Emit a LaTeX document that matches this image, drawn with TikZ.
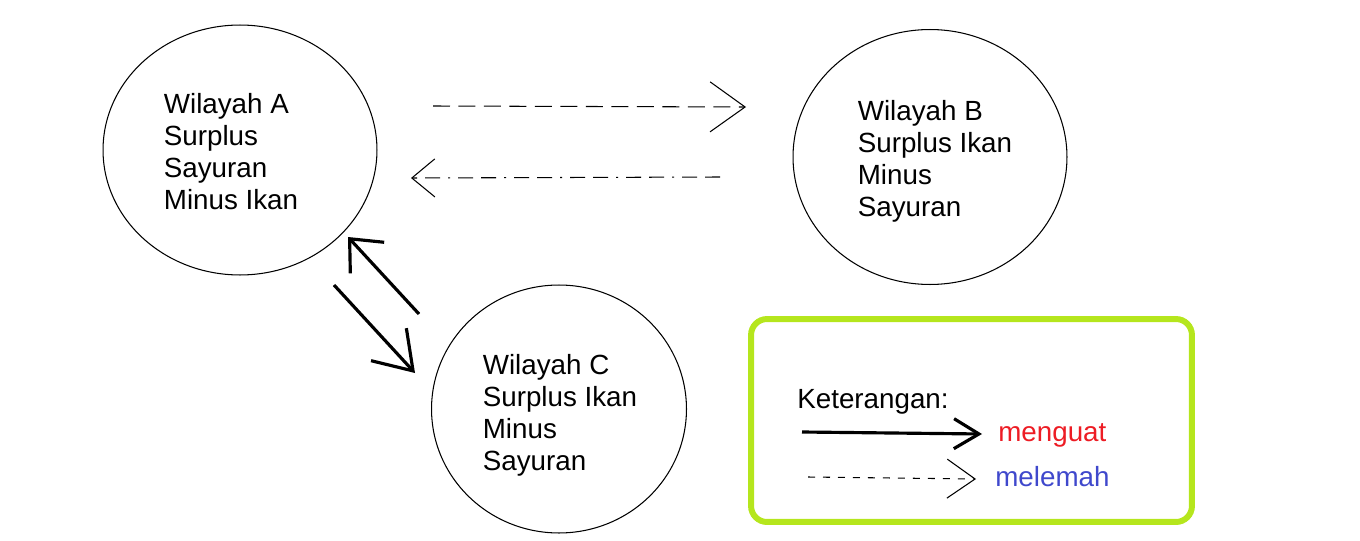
\documentclass[tikz,border=0pt]{standalone}
\usepackage{fontspec}
\setmainfont{Liberation Sans}
\usetikzlibrary{arrows.meta,shapes,calc}

\definecolor{legendgreen}{HTML}{B5E61D}
\definecolor{kuatred}{HTML}{ED1C24}
\definecolor{lemahblue}{HTML}{3F48CC}

\begin{document}
\begin{tikzpicture}[
    x=0.02cm, y=-0.02cm,
    txt/.style={font=\fontsize{15.8}{18.2}\selectfont},
    region/.style={draw, ellipse, line width=0.6pt, inner sep=0pt},
    regiontext/.style={align=left, inner sep=0pt, txt},
    lbl/.style={anchor=base west, inner sep=0pt, txt},
    weak/.style={line width=0.6pt, dash pattern=on 0.34cm off 0.17cm},
    weakdot/.style={line width=0.6pt,
                    dash pattern=on 0.3cm off 0.16cm on 0.3cm off 0.16cm
                                 on 0.04cm off 0.16cm},
    weaksmall/.style={line width=0.6pt, dash pattern=on 0.14cm off 0.16cm},
    strong/.style={line width=1.8pt},
  ]
    \useasboundingbox (0,0) rectangle (1360,541);

    % ---- Regions ----
    \node[region, minimum width=5.48cm, minimum height=5cm]    (A) at (240,150) {};
    \node[region, minimum width=5.48cm, minimum height=5.1cm]  (B) at (930,157) {};
    \node[region, minimum width=5.1cm,  minimum height=4.96cm] (C) at (559,409) {};

    \node[regiontext] (At) at ($(A)+(-9,2)$) {Wilayah A\\Surplus\\Sayuran\\Minus Ikan};
    \node[regiontext] (Bt) at ($(B)+(5,4)$)  {Wilayah B\\Surplus Ikan\\Minus\\Sayuran};
    \node[regiontext] (Ct) at ($(C)+(1,6)$)  {Wilayah C\\Surplus Ikan\\Minus\\Sayuran};

    % ---- Arrow ends ----
    \coordinate (ab1) at (433,106);  \coordinate (ab2) at (746,107);
    \coordinate (ba1) at (720,177);  \coordinate (ba2) at (411,178);
    \coordinate (ac1) at (334,285);  \coordinate (ac2) at (415,373);
    \coordinate (ca1) at (419,314);  \coordinate (ca2) at (348,237);

    % ---- A <-> B (weak) ----
    \draw[weak, -{Straight Barb[length=0.7cm,width=1cm]}] (ab1) -- (ab2);
    \draw[weakdot, -{Straight Barb[length=0.46cm,width=0.76cm]}] (ba1) -- (ba2);

    % ---- A <-> C (strong) ----
    \draw[strong, -{Straight Barb[length=0.72cm,width=0.96cm]}] (ac1) -- (ac2);
    \draw[strong, -{Straight Barb[length=0.52cm,width=0.92cm]}] (ca1) -- (ca2);

    % ---- Legend ----
    \node[draw=legendgreen, line width=3.4pt, rounded corners=0.32cm,
          minimum width=8.82cm, minimum height=4.06cm, inner sep=0pt]
      (legend) at (971.5,420.5) {};
    \node[lbl] (ket) at (797,408) {Keterangan:};
    \node[lbl, text=kuatred]   (kuat)  at (998,441) {menguat};
    \node[lbl, text=lemahblue] (lemah) at (995,486) {melemah};

    \coordinate (k1) at (802,432);  \coordinate (k2) at (982,434);
    \coordinate (l1) at (808,477);  \coordinate (l2) at (976,479);
    \draw[strong, -{Straight Barb[length=0.5cm,width=0.6cm]}] (k1) -- (k2);
    \draw[weaksmall, -{Straight Barb[length=0.56cm,width=0.78cm]}] (l1) -- (l2);
\end{tikzpicture}
\end{document}
